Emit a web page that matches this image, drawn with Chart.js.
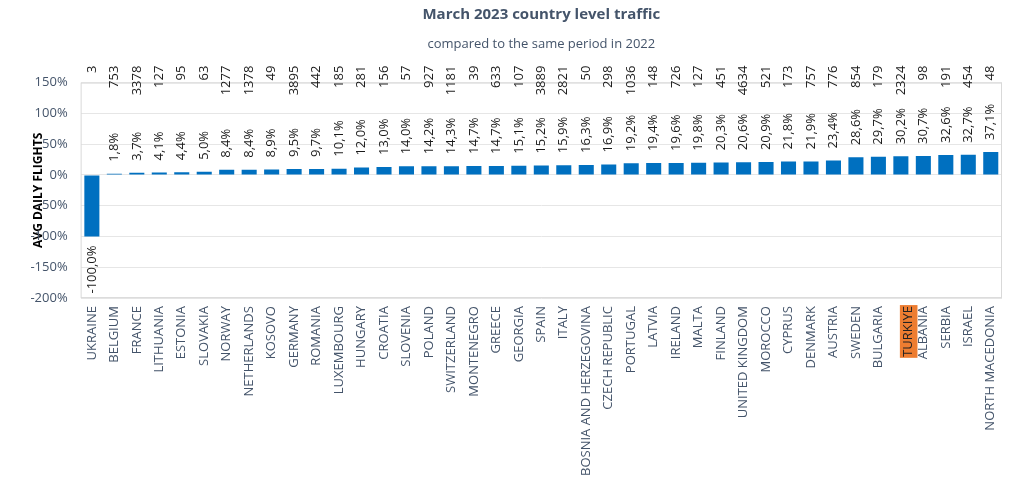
<!DOCTYPE html>
<html>
<head>
<meta charset="utf-8">
<script src="https://cdn.jsdelivr.net/npm/chart.js@4.4.1/dist/chart.umd.min.js"></script>
<style>
  html, body { margin: 0; padding: 0; background: #fff; }
  #wrap { width: 1024px; height: 484px; }
</style>
</head>
<body>
<div id="wrap"><canvas id="traffic"></canvas></div>
<script>
const countries = [
  "UKRAINE", "BELGIUM", "FRANCE", "LITHUANIA", "ESTONIA", "SLOVAKIA", "NORWAY",
  "NETHERLANDS", "KOSOVO", "GERMANY", "ROMANIA", "LUXEMBOURG", "HUNGARY", "CROATIA",
  "SLOVENIA", "POLAND", "SWITZERLAND", "MONTENEGRO", "GREECE", "GEORGIA", "SPAIN",
  "ITALY", "BOSNIA AND HERZEGOVINA", "CZECH REPUBLIC", "PORTUGAL", "LATVIA", "IRELAND",
  "MALTA", "FINLAND", "UNITED KINGDOM", "MOROCCO", "CYPRUS", "DENMARK", "AUSTRIA",
  "SWEDEN", "BULGARIA", "TURKIYE", "ALBANIA", "SERBIA", "ISRAEL", "NORTH MACEDONIA"
];
// % change vs March 2022
const changePct = [
  -100.0, 1.8, 3.7, 4.1, 4.4, 5.0, 8.4, 8.4, 8.9, 9.5, 9.7, 10.1, 12.0, 13.0,
  14.0, 14.2, 14.3, 14.7, 14.7, 15.1, 15.2, 15.9, 16.3, 16.9, 19.2, 19.4, 19.6,
  19.8, 20.3, 20.6, 20.9, 21.8, 21.9, 23.4, 28.6, 29.7, 30.2, 30.7, 32.6, 32.7, 37.1
];
// average daily flights in March 2023
const avgFlights = [
  3, 753, 3378, 127, 95, 63, 1277, 1378, 49, 3895, 442, 185, 281, 156,
  57, 927, 1181, 39, 633, 107, 3889, 2821, 50, 298, 1036, 148, 726,
  127, 451, 4634, 521, 173, 757, 776, 854, 179, 2324, 98, 191, 454, 48
];
const highlighted = "TURKIYE";

const slate = "#44546A";

// draws the rotated value labels, the flight counts above the plot and the plot frame
const labelPlugin = {
  id: "barLabels",
  afterDatasetsDraw(chart) {
    const ctx = chart.ctx;
    const area = chart.chartArea;
    const meta = chart.getDatasetMeta(0);
    ctx.save();
    ctx.strokeStyle = "#D9D9D9";
    ctx.lineWidth = 1;
    ctx.strokeRect(area.left + 0.5, area.top + 0.5, area.width - 1, area.height - 1);
    ctx.font = "13px 'Open Sans'";
    ctx.fillStyle = "#1a1a1a";
    ctx.textBaseline = "middle";
    meta.data.forEach((bar, i) => {
      const v = changePct[i];
      const txt = v.toFixed(1).replace(".", ",") + "%";
      // percent label
      ctx.save();
      if (v >= 0) {
        ctx.translate(bar.x, bar.y - 12);
        ctx.rotate(-Math.PI / 2);
        ctx.textAlign = "left";
      } else {
        ctx.translate(bar.x, bar.y + 9);
        ctx.rotate(-Math.PI / 2);
        ctx.textAlign = "right";
      }
      ctx.fillText(txt, 0, 0);
      ctx.restore();
      // flights count
      ctx.save();
      ctx.translate(bar.x, area.top - 17);
      ctx.rotate(-Math.PI / 2);
      ctx.textAlign = "right";
      ctx.fillText(String(avgFlights[i]), 0, 0);
      ctx.restore();
    });
    ctx.restore();
  }
};

new Chart(document.getElementById("traffic").getContext("2d"), {
  type: "bar",
  data: {
    labels: countries,
    datasets: [
      {
        label: "AVG DAILY FLIGHTS",
        data: changePct,
        backgroundColor: "#0070C0",
        borderColor: "#0070C0",
        borderWidth: 0,
        barPercentage: 0.67,
        categoryPercentage: 1.0,
      },
    ],
  },
  options: {
    responsive: true,
    maintainAspectRatio: false,
    animation: false,
    layout: {
      padding: { left: 0, right: 22, top: 0, bottom: 0 },
    },
    plugins: {
      legend: { display: false },
      tooltip: { enabled: false },
      title: {
        display: true,
        text: "March 2023 country level traffic",
        fullSize: false,
        color: slate,
        font: { family: "'Open Sans'", size: 15, weight: "bold" },
        padding: { top: 6, bottom: 12 },
      },
      subtitle: {
        display: true,
        text: "compared to the same period in 2022",
        fullSize: false,
        color: slate,
        font: { family: "'Open Sans'", size: 13 },
        padding: { top: 0, bottom: 31 },
      },
    },
    scales: {
      x: {
        grid: { display: false, drawTicks: false },
        border: { display: false },
        ticks: {
          autoSkip: false,
          minRotation: 90,
          maxRotation: 90,
          padding: 8,
          color: (c) => (countries[c.index] === highlighted ? "#222" : slate),
          showLabelBackdrop: (c) => countries[c.index] === highlighted,
          backdropColor: "#ED7D31",
          backdropPadding: 1,
          font: { family: "'Open Sans'", size: 13 },
        },
      },
      y: {
        min: -200,
        max: 150,
        grid: { color: "#E6E6E6", drawTicks: false },
        border: { display: false },
        ticks: {
          stepSize: 50,
          padding: 13,
          color: slate,
          font: { family: "'Open Sans'", size: 13 },
          callback: (v) => v + "%",
        },
        title: {
          display: true,
          text: "AVG DAILY FLIGHTS",
          color: "#000",
          font: { family: "'Open Sans'", size: 12, weight: "bold" },
          padding: { top: 31, bottom: -28 },
        },
      },
    },
  },
  plugins: [labelPlugin],
});
</script>
</body>
</html>
